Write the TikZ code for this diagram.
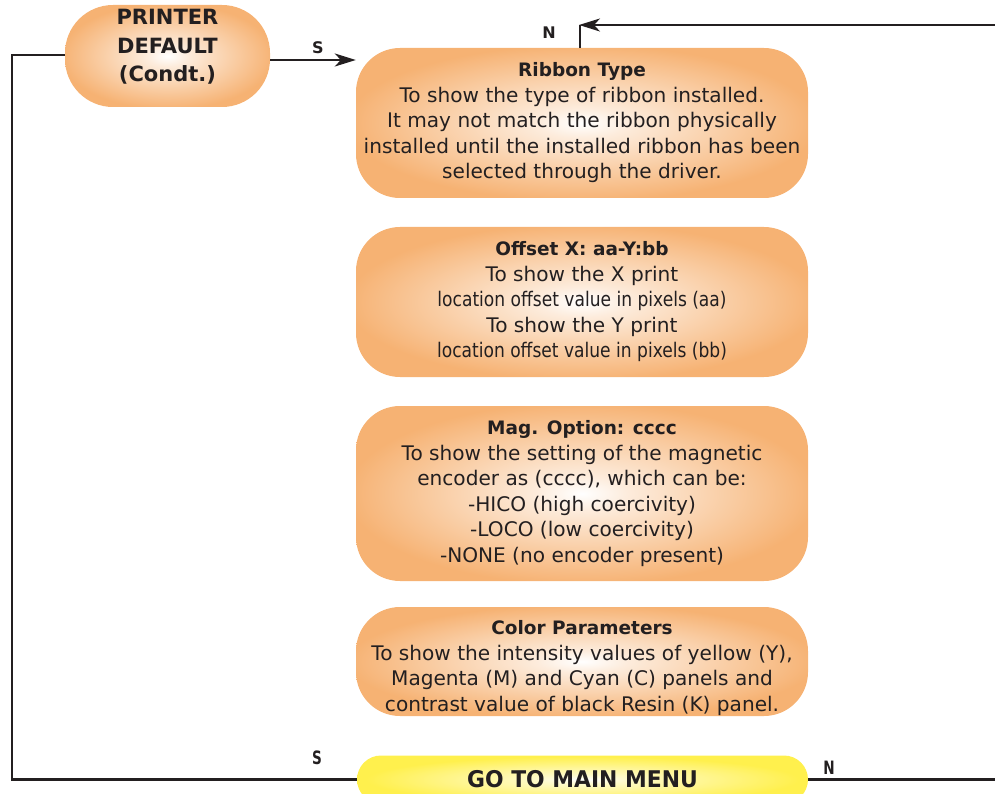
\documentclass[tikz,border=0pt]{standalone}
\usepackage{fontspec}
\setmainfont{DejaVu Sans}
\usepackage{graphicx}
\usetikzlibrary{arrows.meta,calc}
\definecolor{boxor}{HTML}{F6B273}
\definecolor{boxye}{HTML}{FFF04D}
\definecolor{ink}{HTML}{231F20}
\pgfdeclareradialshading{glowor}{\pgfpoint{0bp}{0bp}}{color(0bp)=(white);color(5bp)=(white!75!boxor);color(26bp)=(boxor);color(50bp)=(boxor)}
\pgfdeclareradialshading{glowye}{\pgfpoint{0bp}{0bp}}{color(0bp)=(white);color(5bp)=(white!70!boxye);color(24bp)=(boxye);color(50bp)=(boxye)}
\tikzset{
  boxtext/.style={align=center, font=\fontsize{20.1}{25.5}\selectfont, text=ink, inner sep=0pt},
  infobox/.style={boxtext, shading=glowor, rounded corners=44pt, minimum width=452pt},
  startbox/.style={shading=glowor, rounded corners=48pt, minimum width=205pt, minimum height=102pt, inner sep=0pt},
  starttext/.style={align=center, font=\fontsize{21}{28.5}\selectfont\bfseries, text=ink, inner sep=0pt},
  menubox/.style={shading=glowye, rounded corners=24pt, minimum width=451pt, minimum height=48pt,
    align=center, font=\fontsize{23}{28}\selectfont\bfseries, text=ink, inner sep=0pt},
  flow/.style={draw=ink, line width=2pt},
  flowarrow/.style={flow, -{Stealth[length=21pt,width=13pt,inset=6pt]}},
  tag/.style={font=\fontsize{16}{18}\selectfont\bfseries, text=ink, inner sep=0pt}
}
\newcommand{\cond}[1]{\scalebox{0.85}[1]{#1}}
\newcommand{\ttl}[1]{{\fontsize{18.5}{25.5}\selectfont\bfseries #1}}
\begin{document}
\begin{tikzpicture}[x=1pt,y=-1pt]
\useasboundingbox (0,0) rectangle (995,794);
\clip (0,0) rectangle (995,794);

\node[startbox] (pd) at (167.5,56) {};
\node[starttext] (pdtext) at (167.5,47) {PRINTER\\DEFAULT\\(Condt.)};

\node[infobox, minimum height=150pt] (rib) at (582,123)
  {\ttl{Ribbon Type}\\To show the type of ribbon installed.\\It may not match the ribbon physically\\installed until the installed ribbon has been\\selected through the driver.};

\node[infobox, minimum height=150pt] (off) at (582,302)
  {\ttl{Offset X: aa-Y:bb}\\To show the X print\\\cond{location offset value in pixels (aa)}\\To show the Y print\\\cond{location offset value in pixels (bb)}};

\node[infobox, minimum height=175pt] (mag) at (582,493.5)
  {\ttl{Mag. Option: cccc}\\To show the setting of the magnetic\\encoder as (cccc), which can be:\\-HICO (high coercivity)\\-LOCO (low coercivity)\\-NONE (no encoder present)};

\node[infobox, minimum height=109pt] (col) at (582,661.5) {};
\node[boxtext] (coltext) at (582,668)
  {\ttl{Color Parameters}\\To show the intensity values of yellow (Y),\\Magenta (M) and Cyan (C) panels and\\contrast value of black Resin (K) panel.};

\node[menubox] (menu) at (582.5,779.5) {\scalebox{0.95}[1]{GO TO MAIN MENU}};

% connectors
\coordinate (ls) at (12,55);
\coordinate (lb) at (12,779.5);
\coordinate (rb) at (996,779.5);
\coordinate (rt) at (996,25);
\coordinate (nt) at (580,25);

\draw[flowarrow] (pd.east |- 0,60) -- (rib.west |- 0,60);
\draw[flow] (pd.west |- ls) -- (ls) -- (lb);
\draw[flow, line width=2.6pt] ($(lb)+(-1,0)$) -- (menu.west);
\draw[flow, line width=2.6pt] (menu.east) -- (rb);
\draw[flowarrow] (rt) -- ($(nt)+(-1,0)$);
\draw[flow] (nt) -- (nt |- rib.north);

\node[tag] (s1) at (318,48) {S};
\node[tag] (n1) at (549,33) {N};
\node[tag] (s2) at (317,758) {\scalebox{0.85}[1.15]{S}};
\node[tag] (n2) at (829,768) {\scalebox{0.85}[1.15]{N}};
\end{tikzpicture}
\end{document}
